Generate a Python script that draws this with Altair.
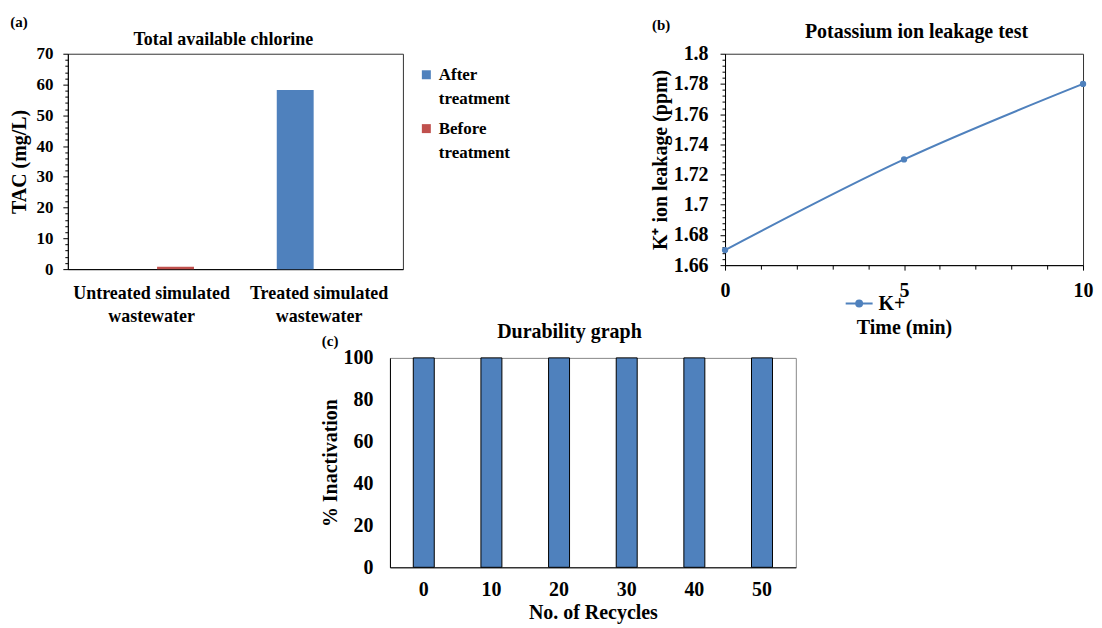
import altair as alt
import pandas as pd

FONT = "Liberation Serif"
BLUE = "#4F81BD"
RED = "#C0504D"

# ---------------- Panel (a) data ----------------
A_TITLE = "Total available chlorine"
A_CATEGORIES = ["Untreated simulated wastewater", "Treated simulated wastewater"]
A_LABEL_LINES = [["Untreated simulated", "wastewater"], ["Treated simulated", "wastewater"]]
A_SERIES = ["After treatment", "Before treatment"]
A_AFTER = [0.0, 58.2]
A_BEFORE = [0.8, 0.0]
A_Y_TICKS = [0, 2, 4, 6, 8, 10, 12, 14, 16, 18, 20, 22, 24, 26, 28, 30, 32, 34,
             36, 38, 40, 42, 44, 46, 48, 50, 52, 54, 56, 58, 60, 62, 64, 66, 68, 70]

# ---------------- Panel (b) data ----------------
B_TITLE = "Potassium ion leakage test"
B_TIME = [0, 5, 10]
B_K = [1.67, 1.73, 1.78]
B_SERIES = ["K+"]
B_X_TICKS = [0, 1, 2, 3, 4, 5, 6, 7, 8, 9, 10]
B_Y_MAJOR = [1.66, 1.68, 1.70, 1.72, 1.74, 1.76, 1.78, 1.80]
B_Y_TICKS = [round(B_Y_MAJOR[0] + 0.004 * i, 3) for i in range(36)]

# ---------------- Panel (c) data ----------------
C_TITLE = "Durability graph"
C_RECYCLES = [0, 10, 20, 30, 40, 50]
C_INACT = [100, 100, 100, 100, 100, 100]
C_Y_TICKS = [0, 20, 40, 60, 80, 100]


def text_mark(txt, px, py, size, baseline="middle"):
    return alt.Chart(pd.DataFrame({"t": [txt]})).mark_text(
        font=FONT, fontSize=size, fontWeight="bold", align="center",
        baseline=baseline, color="black"
    ).encode(text="t:N", x=alt.value(px), y=alt.value(py))


# ---------------- Panel (a) ----------------
df_a = pd.DataFrame({
    "category": A_CATEGORIES * 2,
    "series": [A_SERIES[0]] * len(A_CATEGORIES) + [A_SERIES[1]] * len(A_CATEGORIES),
    "value": A_AFTER + A_BEFORE,
})
label_expr_a = " : ".join(
    f"datum.label == '{c}' ? {lines}" for c, lines in zip(A_CATEGORIES[:-1], A_LABEL_LINES[:-1])
) + f" : {A_LABEL_LINES[-1]}"

bars_a = alt.Chart(df_a).mark_bar().encode(
    x=alt.X("category:N", sort=A_CATEGORIES,
            scale=alt.Scale(paddingInner=0, paddingOuter=0),
            axis=alt.Axis(title=None, labelAngle=0, ticks=False, labelPadding=15,
                          labelFontSize=18, labelExpr=label_expr_a, labelLineHeight=24)),
    xOffset=alt.XOffset("series:N", sort=A_SERIES,
                        scale=alt.Scale(paddingInner=0.229, paddingOuter=0.865)),
    y=alt.Y("value:Q", scale=alt.Scale(domain=[0, 70], nice=False),
            axis=alt.Axis(title="TAC (mg/L)", values=A_Y_TICKS, labelOverlap=False,
                          labelExpr="datum.value % 10 == 0 ? datum.label : ''",
                          tickSize={"condition": {"test": "datum.value % 10 == 0", "value": 5}, "value": 3},
                          labelPadding=10, titlePadding=6, titleFontSize=20)),
    color=alt.Color("series:N", sort=A_SERIES,
                    scale=alt.Scale(domain=A_SERIES, range=[BLUE, RED]),
                    legend=alt.Legend(title=None, orient="none", legendX=351, legendY=18,
                                      symbolType="M-1,-2.2H1V-0.2H-1Z", symbolSize=81,
                                      symbolStrokeWidth=0,
                                      labelExpr="split(datum.label, ' ')",
                                      labelBaseline="alphabetic", labelFontSize=17,
                                      labelOffset=4, rowPadding=12)),
)
panel_a = alt.layer(
    bars_a,
    text_mark("(a)", -49, -32, 15),
    text_mark(A_TITLE, 156, -9, 18, "alphabetic"),
).properties(
    width=336, height=216,
    view=alt.ViewBackground(stroke="#333333", strokeWidth=1),
)

# ---------------- Panel (b) ----------------
df_b = pd.DataFrame({"time": B_TIME, "k": B_K, "series": B_SERIES * len(B_TIME)})
major_test_b = "abs(datum.value * 50 - round(datum.value * 50)) < 0.001"
base_b = alt.Chart(df_b).encode(
    x=alt.X("time:Q", scale=alt.Scale(domain=[0, 10], nice=False),
            axis=alt.Axis(title="Time (min)", values=B_X_TICKS, labelOverlap=False,
                          labelExpr="datum.value % 5 == 0 ? datum.label : ''",
                          tickSize={"condition": {"test": "datum.value % 5 == 0", "value": 5}, "value": 4},
                          labelPadding=10, titlePadding=18, labelFlush=False,
                          labelFontSize=20, titleFontSize=20)),
    y=alt.Y("k:Q", scale=alt.Scale(domain=[1.66, 1.8], nice=False, zero=False),
            axis=alt.Axis(title="K⁺ ion leakage (ppm)", values=B_Y_TICKS, labelOverlap=False,
                          labelExpr=f"{major_test_b} ? format(datum.value, '.2~f') : ''",
                          tickSize={"condition": {"test": major_test_b, "value": 5}, "value": 3},
                          labelPadding=12, titlePadding=3,
                          labelFontSize=20, titleFontSize=20)),
    color=alt.Color("series:N", scale=alt.Scale(domain=B_SERIES, range=[BLUE]),
                    legend=alt.Legend(title=None, orient="none", legendX=120, legendY=236,
                                      symbolType="M-1,0H1M0.22,0A0.22,0.22,0,1,1,-0.22,0A0.22,0.22,0,1,1,0.22,0Z",
                                      symbolSize=729, symbolStrokeWidth=2,
                                      symbolFillColor=BLUE, symbolStrokeColor=BLUE,
                                      labelFontSize=20, labelOffset=5)),
)
line_b = base_b.mark_line(interpolate="monotone", strokeWidth=2)
pts_b = base_b.mark_point(filled=True, size=40, opacity=1)
panel_b = alt.layer(
    line_b, pts_b,
    text_mark("(b)", -64, -29, 15),
    text_mark(B_TITLE, 192, -16, 20, "alphabetic"),
).properties(
    width=359, height=212,
    view=alt.ViewBackground(stroke="#333333", strokeWidth=1),
)

# ---------------- Panel (c) ----------------
df_c = pd.DataFrame({"recycles": C_RECYCLES, "inact": C_INACT})
bars_c = alt.Chart(df_c).mark_bar(color=BLUE, stroke="black", strokeWidth=1).encode(
    x=alt.X("recycles:O", sort=C_RECYCLES,
            scale=alt.Scale(paddingInner=0.69, paddingOuter=0.345),
            axis=alt.Axis(title="No. of Recycles", labelAngle=0, ticks=False,
                          labelPadding=12, titlePadding=3,
                          labelFontSize=20, titleFontSize=20)),
    y=alt.Y("inact:Q", scale=alt.Scale(domain=[0, 100], nice=False),
            axis=alt.Axis(title="% Inactivation", values=C_Y_TICKS, ticks=False,
                          labelPadding=17, titlePadding=3,
                          labelFontSize=20, titleFontSize=20)),
)
panel_c = alt.layer(
    bars_c,
    text_mark("(c)", -60, -17, 15),
    text_mark(C_TITLE, 180, -20, 20, "alphabetic"),
).properties(
    width=407, height=210,
    view=alt.ViewBackground(stroke="#888888", strokeWidth=1),
)

spacer = alt.Chart(pd.DataFrame({"v": [0]})).mark_point(size=0, opacity=0).encode(
    x=alt.value(0), y=alt.value(0)
).properties(width=1, height=1, view=alt.ViewBackground(stroke="transparent"))

top_row = alt.hconcat(panel_a, panel_b, spacing=323, bounds="flush").resolve_scale(
    color="independent"
).resolve_legend(color="independent")
bottom_row = alt.hconcat(spacer, panel_c, spacing=322, bounds="flush")

chart = alt.vconcat(top_row, bottom_row, spacing=-18).resolve_scale(
    color="independent"
).resolve_legend(color="independent").properties(
    padding={"left": 1, "top": 5, "right": 0, "bottom": 0}
).configure(
    font=FONT, style={"guide-label": {"lineHeight": 24}}
).configure_axis(
    labelFont=FONT, titleFont=FONT, labelFontWeight="bold", titleFontWeight="bold",
    labelColor="black", titleColor="black", labelFontSize=17, titleFontSize=17,
    domainColor="black", tickColor="black", grid=False,
).configure_legend(
    labelFont=FONT, labelFontSize=17, labelFontWeight="bold", labelColor="black",
)

chart.save("out.html", embed_options={"renderer": "svg", "actions": False})
